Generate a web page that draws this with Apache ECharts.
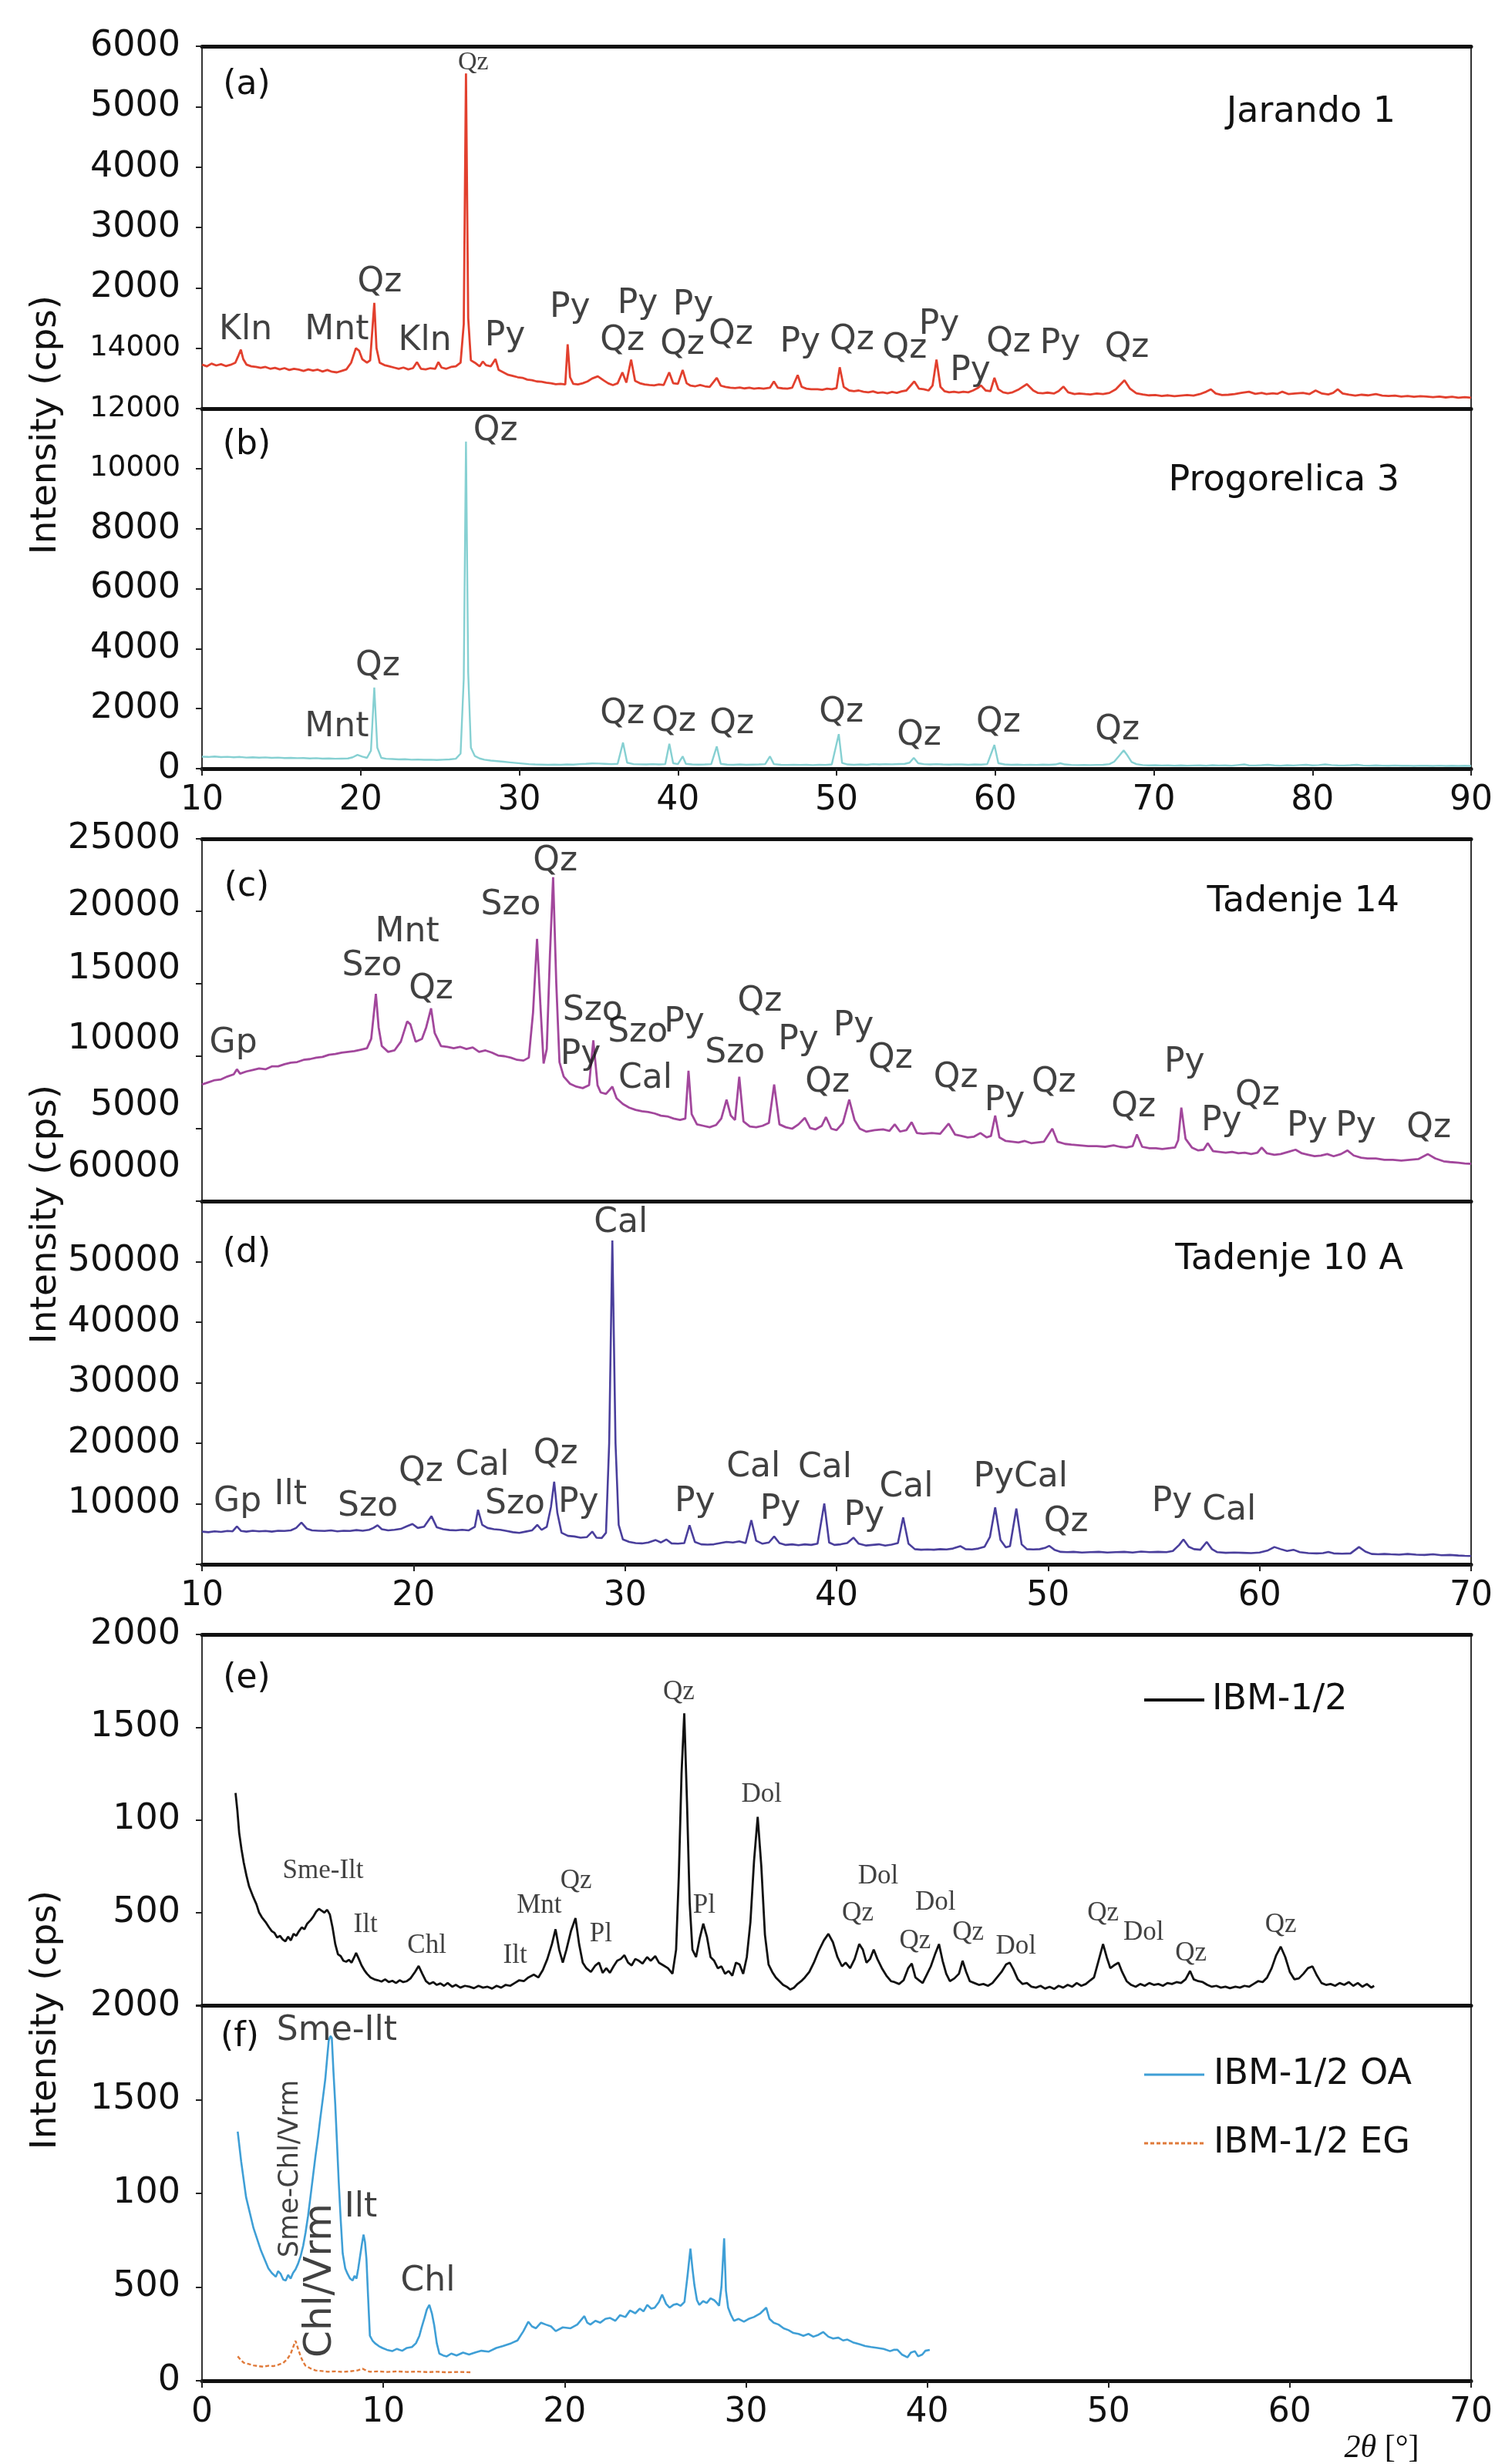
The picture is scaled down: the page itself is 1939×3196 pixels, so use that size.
<!DOCTYPE html>
<html><head><meta charset="utf-8">
<script src="https://cdn.jsdelivr.net/npm/echarts@6/dist/echarts.min.js"></script>
<style>html,body{margin:0;padding:0;background:#fff}#c{width:1939px;height:3196px}</style>
</head><body><div id="c"></div>
<script>
// ---------------- DATA (2θ [°], intensity [cps]) ----------------
const jarando1 = [[10.0,730],[10.3,700],[10.6,745],[10.9,715],[11.2,735],[11.5,705],[11.8,725],[12.1,760],[12.3,880],[12.45,975],[12.6,820],[12.8,730],[13.1,700],[13.4,690],[13.7,675],[14.0,690],[14.3,660],[14.6,675],[14.9,650],[15.2,670],[15.5,640],[15.8,660],[16.1,645],[16.4,625],[16.7,650],[17.0,630],[17.3,645],[17.6,615],[17.9,640],[18.2,610],[18.5,600],[18.8,625],[19.1,650],[19.4,760],[19.7,1000],[19.9,960],[20.1,820],[20.4,760],[20.6,800],[20.86,1750],[21.0,1000],[21.2,760],[21.5,720],[21.8,700],[22.1,680],[22.4,660],[22.7,680],[23.0,650],[23.3,670],[23.55,770],[23.8,660],[24.1,650],[24.4,670],[24.7,660],[24.9,770],[25.1,680],[25.4,660],[25.7,690],[26.0,700],[26.3,760],[26.5,1400],[26.64,5550],[26.78,1500],[26.95,800],[27.2,760],[27.5,700],[27.7,780],[27.9,720],[28.2,700],[28.5,820],[28.7,640],[29.0,600],[29.3,560],[29.6,540],[29.9,520],[30.2,510],[30.5,480],[30.8,470],[31.1,450],[31.4,445],[31.7,430],[32.0,420],[32.3,405],[32.6,410],[32.9,400],[33.05,1065],[33.2,520],[33.4,410],[33.7,400],[34.0,420],[34.3,450],[34.6,500],[34.95,535],[35.3,470],[35.6,420],[35.9,390],[36.2,420],[36.5,600],[36.75,430],[37.05,810],[37.3,460],[37.6,420],[37.9,400],[38.2,390],[38.5,385],[38.8,400],[39.1,390],[39.45,600],[39.7,420],[40.0,410],[40.3,640],[40.55,420],[40.8,380],[41.1,370],[41.4,390],[41.7,370],[42.0,360],[42.45,510],[42.7,380],[43.0,360],[43.3,345],[43.6,340],[43.9,350],[44.2,335],[44.5,345],[44.8,330],[45.1,340],[45.4,330],[45.8,345],[46.05,450],[46.3,345],[46.6,335],[46.9,330],[47.2,345],[47.55,555],[47.8,360],[48.1,330],[48.4,320],[48.8,320],[49.1,310],[49.4,330],[49.7,320],[50.0,340],[50.2,685],[50.45,360],[50.8,300],[51.1,290],[51.4,300],[51.7,280],[52.0,270],[52.3,285],[52.6,260],[52.9,270],[53.2,255],[53.5,275],[53.8,260],[54.1,285],[54.4,300],[54.9,450],[55.2,330],[55.5,320],[55.8,300],[56.05,380],[56.3,810],[56.55,360],[56.8,290],[57.1,270],[57.4,280],[57.7,265],[58.0,280],[58.3,270],[58.6,300],[58.9,340],[59.1,385],[59.4,300],[59.7,290],[59.95,510],[60.2,320],[60.5,270],[60.8,255],[61.1,270],[61.5,320],[62.0,405],[62.4,300],[62.7,260],[63.0,255],[63.3,265],[63.7,250],[64.0,290],[64.3,365],[64.6,270],[65.0,240],[65.3,250],[65.7,240],[66.0,235],[66.4,250],[66.8,240],[67.2,260],[67.6,320],[68.15,470],[68.5,330],[68.9,255],[69.3,235],[69.7,220],[70.1,225],[70.5,210],[70.9,220],[71.3,205],[71.7,215],[72.1,225],[72.5,215],[72.9,240],[73.3,280],[73.6,320],[73.9,250],[74.3,225],[74.7,230],[75.1,240],[75.5,260],[76.0,280],[76.4,245],[76.8,260],[77.1,240],[77.5,255],[77.8,245],[78.1,280],[78.5,240],[78.9,250],[79.4,260],[79.8,240],[80.2,300],[80.6,250],[81.0,235],[81.3,260],[81.6,320],[81.9,250],[82.3,230],[82.7,215],[83.1,230],[83.5,220],[84.0,240],[84.4,215],[84.8,210],[85.2,215],[85.6,200],[86.0,210],[86.4,195],[86.8,205],[87.2,200],[87.6,190],[88.0,200],[88.4,185],[88.8,195],[89.2,180],[89.6,190],[90.0,180]];

const progorelica3 = [[10.0,400],[10.4,390],[10.8,405],[11.2,385],[11.6,395],[12.0,380],[12.4,390],[12.8,370],[13.2,380],[13.6,365],[14.0,375],[14.4,360],[14.8,370],[15.2,355],[15.6,360],[16.0,350],[16.4,355],[16.8,340],[17.2,350],[17.6,335],[18.0,340],[18.4,330],[18.8,335],[19.2,340],[19.5,380],[19.8,460],[20.1,400],[20.4,360],[20.65,600],[20.86,2700],[21.05,700],[21.3,360],[21.6,330],[22.0,320],[22.4,310],[22.8,315],[23.2,300],[23.6,305],[24.0,295],[24.4,300],[24.8,290],[25.2,300],[25.6,310],[26.0,330],[26.3,500],[26.5,3000],[26.64,10900],[26.78,3200],[26.95,700],[27.2,420],[27.5,340],[27.8,300],[28.2,270],[28.6,250],[29.0,230],[29.4,210],[29.8,190],[30.2,170],[30.6,150],[31.0,140],[31.4,135],[31.8,130],[32.2,135],[32.6,130],[33.0,140],[33.4,135],[33.8,150],[34.2,160],[34.6,175],[35.0,170],[35.4,160],[35.8,150],[36.2,160],[36.54,870],[36.8,200],[37.2,150],[37.6,145],[38.0,140],[38.4,150],[38.8,140],[39.2,150],[39.46,830],[39.7,180],[40.0,150],[40.3,410],[40.5,160],[40.9,140],[41.3,135],[41.7,140],[42.1,150],[42.45,740],[42.7,160],[43.1,135],[43.5,130],[43.9,140],[44.3,130],[44.7,135],[45.1,140],[45.5,150],[45.8,410],[46.05,150],[46.5,130],[46.9,125],[47.3,130],[47.7,125],[48.1,130],[48.5,120],[48.9,130],[49.3,125],[49.7,140],[50.14,1150],[50.35,190],[50.7,140],[51.1,130],[51.5,140],[51.9,130],[52.3,150],[52.7,140],[53.1,150],[53.5,145],[53.9,155],[54.3,160],[54.6,200],[54.87,360],[55.15,180],[55.5,150],[55.9,140],[56.3,150],[56.7,140],[57.1,135],[57.5,145],[57.9,140],[58.3,130],[58.7,140],[59.1,135],[59.5,150],[59.95,790],[60.2,180],[60.6,140],[61.0,130],[61.4,135],[61.8,125],[62.2,130],[62.6,125],[63.0,135],[63.4,130],[63.8,140],[64.1,180],[64.4,140],[64.8,125],[65.2,120],[65.6,125],[66.0,120],[66.4,125],[66.8,130],[67.2,150],[67.5,230],[67.8,420],[68.1,610],[68.35,430],[68.6,220],[68.9,150],[69.3,120],[69.7,110],[70.1,115],[70.5,105],[70.9,110],[71.3,100],[71.7,110],[72.1,100],[72.5,105],[72.9,110],[73.3,100],[73.7,115],[74.1,105],[74.5,110],[74.9,100],[75.3,120],[75.7,140],[76.0,110],[76.4,105],[76.8,115],[77.2,130],[77.6,110],[78.0,100],[78.4,115],[78.8,105],[79.2,120],[79.6,130],[80.0,110],[80.4,120],[80.8,140],[81.2,120],[81.6,110],[82.0,105],[82.4,115],[82.8,130],[83.2,105],[83.6,100],[84.0,110],[84.4,100],[84.8,95],[85.2,105],[85.6,95],[86.0,100],[86.4,90],[86.8,100],[87.2,95],[87.6,90],[88.0,100],[88.4,90],[88.8,95],[89.2,90],[89.6,95],[90.0,90]];

const tadenje14 = [[10.0,8050],[10.3,8200],[10.6,8350],[10.9,8400],[11.2,8600],[11.5,8750],[11.65,9100],[11.8,8800],[12.1,8950],[12.4,9050],[12.7,9150],[13.0,9100],[13.3,9300],[13.6,9300],[13.9,9450],[14.2,9550],[14.5,9600],[14.8,9750],[15.1,9800],[15.4,9900],[15.7,9950],[16.0,10100],[16.3,10150],[16.6,10250],[16.9,10300],[17.2,10350],[17.5,10450],[17.8,10550],[18.0,11200],[18.1,12600],[18.22,14300],[18.35,12000],[18.5,10700],[18.8,10300],[19.1,10400],[19.4,11000],[19.7,12400],[19.85,12200],[20.1,11000],[20.4,11200],[20.6,12000],[20.83,13300],[21.0,11600],[21.3,10700],[21.6,10650],[21.9,10550],[22.2,10650],[22.5,10500],[22.8,10600],[23.1,10300],[23.4,10400],[23.7,10250],[24.0,10050],[24.3,10000],[24.6,9900],[24.9,9750],[25.2,9700],[25.45,9900],[25.65,13000],[25.84,18100],[26.0,13500],[26.15,9500],[26.3,10500],[26.45,17000],[26.6,22350],[26.75,15000],[26.9,9600],[27.1,8600],[27.4,8100],[27.7,7900],[28.0,7800],[28.3,8000],[28.5,11100],[28.7,8000],[28.85,7500],[29.1,7400],[29.4,7900],[29.6,7100],[29.9,6700],[30.2,6450],[30.5,6300],[30.8,6200],[31.1,6150],[31.4,6050],[31.7,5900],[32.0,5850],[32.3,5700],[32.6,5600],[32.85,5700],[33.0,9000],[33.15,6000],[33.4,5300],[33.7,5200],[34.0,5100],[34.3,5250],[34.55,5700],[34.8,7000],[35.0,5900],[35.2,5600],[35.4,8580],[35.6,5500],[35.9,5150],[36.2,5100],[36.5,5200],[36.8,5400],[37.05,8050],[37.3,5300],[37.6,5100],[37.9,5000],[38.2,5300],[38.5,5750],[38.75,5050],[39.0,4950],[39.3,5200],[39.5,5800],[39.75,5000],[40.0,4900],[40.3,5400],[40.6,7000],[40.85,5600],[41.1,5000],[41.4,4800],[41.8,4900],[42.2,4950],[42.5,4850],[42.75,5300],[43.0,4800],[43.3,4900],[43.55,5450],[43.8,4700],[44.1,4650],[44.5,4700],[44.9,4650],[45.3,5350],[45.6,4600],[45.9,4500],[46.2,4400],[46.5,4450],[46.8,4700],[47.1,4400],[47.3,4500],[47.5,5900],[47.7,4400],[48.0,4150],[48.3,4100],[48.6,4050],[48.9,4150],[49.2,4000],[49.5,4050],[49.8,4100],[50.2,5000],[50.45,4100],[50.8,3950],[51.1,3900],[51.5,3850],[51.9,3800],[52.3,3800],[52.7,3750],[53.1,3850],[53.4,3750],[53.7,3700],[54.0,3800],[54.2,4600],[54.45,3750],[54.8,3650],[55.1,3650],[55.4,3600],[55.7,3650],[56.0,3700],[56.15,4200],[56.3,6450],[56.5,4300],[56.8,3700],[57.1,3500],[57.35,3550],[57.55,4000],[57.8,3450],[58.1,3400],[58.4,3350],[58.7,3400],[59.0,3300],[59.3,3350],[59.6,3250],[59.9,3350],[60.1,3700],[60.35,3300],[60.7,3200],[61.0,3250],[61.35,3400],[61.7,3550],[62.0,3300],[62.3,3200],[62.6,3100],[62.9,3150],[63.2,3250],[63.5,3100],[63.85,3250],[64.15,3500],[64.45,3150],[64.8,3000],[65.1,2950],[65.5,2950],[65.9,2850],[66.3,2850],[66.7,2800],[67.1,2850],[67.5,2900],[67.95,3250],[68.3,2950],[68.7,2750],[69.0,2700],[69.4,2650],[69.7,2600],[70.0,2580]];

const tadenje10A = [[10.0,5400],[10.3,5300],[10.6,5450],[10.9,5350],[11.2,5500],[11.45,5450],[11.65,6250],[11.85,5500],[12.1,5400],[12.4,5550],[12.7,5450],[13.0,5500],[13.3,5400],[13.6,5550],[13.9,5500],[14.2,5600],[14.45,6000],[14.7,6900],[14.95,5900],[15.2,5600],[15.5,5550],[15.8,5500],[16.1,5600],[16.4,5450],[16.7,5550],[17.0,5500],[17.3,5650],[17.6,5550],[17.9,5700],[18.1,6000],[18.3,6450],[18.5,5800],[18.8,5600],[19.1,5700],[19.4,5850],[19.7,6300],[19.95,6650],[20.2,6000],[20.5,6200],[20.85,7950],[21.1,6100],[21.4,5800],[21.7,5650],[22.0,5600],[22.3,5700],[22.6,5600],[22.9,6200],[23.05,9000],[23.25,6500],[23.5,6000],[23.8,5800],[24.1,5700],[24.4,5500],[24.7,5300],[25.0,5200],[25.3,5400],[25.6,5600],[25.85,6500],[26.05,5700],[26.3,6200],[26.5,9500],[26.65,13650],[26.8,8500],[27.0,5200],[27.3,4700],[27.6,4600],[27.9,4400],[28.2,4500],[28.45,5400],[28.65,4400],[28.9,4350],[29.1,5200],[29.25,20000],[29.4,53500],[29.55,20000],[29.7,6500],[29.9,4100],[30.2,3700],[30.5,3500],[30.8,3450],[31.1,3600],[31.45,4000],[31.7,3600],[31.95,4100],[32.2,3450],[32.5,3400],[32.8,3500],[33.05,6450],[33.3,3700],[33.6,3300],[33.9,3250],[34.2,3300],[34.5,3500],[34.8,3700],[35.1,3600],[35.4,3800],[35.7,3500],[35.97,7300],[36.2,3900],[36.5,3400],[36.8,3600],[37.05,4600],[37.3,3500],[37.6,3200],[37.9,3300],[38.2,3150],[38.5,3300],[38.8,3200],[39.1,3400],[39.42,10050],[39.65,3600],[39.9,3200],[40.2,3300],[40.5,3500],[40.8,4400],[41.05,3400],[41.4,3100],[41.7,3200],[42.0,3300],[42.3,3100],[42.6,3250],[42.9,3500],[43.15,7750],[43.4,3400],[43.7,2500],[44.0,2400],[44.3,2450],[44.6,2400],[44.9,2500],[45.2,2450],[45.5,2600],[45.85,3000],[46.1,2500],[46.4,2450],[46.7,2600],[47.0,2900],[47.25,4500],[47.5,9400],[47.75,4000],[48.0,2800],[48.2,3000],[48.5,9200],[48.75,3300],[49.0,2500],[49.3,2450],[49.6,2500],[49.85,2700],[50.05,3050],[50.3,2400],[50.6,2050],[50.9,2000],[51.2,2050],[51.6,1950],[52.0,2000],[52.4,2050],[52.8,1950],[53.2,2000],[53.6,2050],[54.0,1950],[54.4,2100],[54.8,2000],[55.2,2050],[55.6,2000],[55.9,2200],[56.2,3200],[56.4,4100],[56.65,2900],[56.9,2500],[57.2,2400],[57.5,3700],[57.75,2500],[58.0,2000],[58.4,1900],[58.8,1950],[59.2,1900],[59.6,1850],[60.0,1950],[60.4,2300],[60.7,2850],[61.0,2500],[61.3,2200],[61.6,2400],[61.9,2000],[62.3,1850],[62.7,1800],[63.0,1850],[63.25,2050],[63.5,1800],[63.9,1750],[64.3,1800],[64.7,2850],[65.0,2100],[65.3,1700],[65.6,1650],[65.9,1700],[66.2,1650],[66.6,1600],[67.0,1700],[67.4,1600],[67.8,1550],[68.2,1650],[68.6,1500],[69.0,1550],[69.4,1450],[69.7,1400],[70.0,1360]];

const ibm12 = [[1.85,1145],[1.95,1050],[2.05,930],[2.18,840],[2.3,770],[2.45,700],[2.6,640],[2.8,590],[3.0,545],[3.15,500],[3.3,475],[3.5,450],[3.7,420],[3.85,400],[4.0,390],[4.15,365],[4.3,375],[4.45,355],[4.6,345],[4.75,370],[4.9,350],[5.05,385],[5.2,375],[5.35,400],[5.5,420],[5.65,410],[5.8,440],[6.0,460],[6.15,480],[6.3,505],[6.45,520],[6.6,510],[6.75,500],[6.9,515],[7.05,490],[7.2,420],[7.35,330],[7.5,275],[7.65,265],[7.8,240],[7.95,235],[8.1,245],[8.25,230],[8.4,260],[8.5,282],[8.65,250],[8.8,215],[8.95,190],[9.1,170],[9.3,150],[9.5,140],[9.7,135],[9.9,128],[10.1,140],[10.3,125],[10.5,132],[10.7,120],[10.9,135],[11.1,125],[11.3,130],[11.5,145],[11.75,180],[11.95,212],[12.15,170],[12.35,130],[12.55,115],[12.75,125],[12.95,110],[13.15,118],[13.35,105],[13.55,120],[13.8,100],[14.0,110],[14.25,95],[14.5,105],[14.75,100],[15.0,92],[15.25,105],[15.5,95],[15.75,100],[16.0,90],[16.25,105],[16.5,95],[16.75,110],[17.0,105],[17.25,120],[17.5,135],[17.75,130],[18.0,150],[18.3,165],[18.55,150],[18.8,190],[19.05,250],[19.3,330],[19.5,410],[19.7,300],[19.9,230],[20.1,300],[20.35,400],[20.6,470],[20.8,330],[21.0,230],[21.2,200],[21.45,180],[21.7,215],[21.9,230],[22.1,175],[22.3,200],[22.5,175],[22.7,210],[22.9,240],[23.1,250],[23.3,270],[23.5,230],[23.7,215],[23.9,250],[24.1,240],[24.3,225],[24.55,260],[24.75,240],[25.0,265],[25.2,230],[25.45,215],[25.7,200],[25.95,170],[26.15,300],[26.3,700],[26.45,1250],[26.6,1575],[26.75,1100],[26.9,550],[27.05,300],[27.25,260],[27.45,360],[27.65,440],[27.85,370],[28.05,260],[28.25,240],[28.45,200],[28.65,210],[28.85,170],[29.05,185],[29.25,160],[29.45,230],[29.65,220],[29.85,170],[30.05,260],[30.25,450],[30.45,780],[30.65,1016],[30.85,750],[31.05,380],[31.25,220],[31.45,180],[31.65,150],[31.85,130],[32.05,110],[32.25,100],[32.45,85],[32.65,95],[32.85,115],[33.05,130],[33.25,150],[33.5,180],[33.75,230],[34.0,290],[34.3,350],[34.55,385],[34.8,340],[35.05,260],[35.3,210],[35.5,230],[35.75,200],[36.0,250],[36.25,330],[36.45,300],[36.65,230],[36.85,250],[37.05,300],[37.25,250],[37.5,200],[37.75,160],[38.0,130],[38.2,125],[38.45,115],[38.7,135],[38.95,200],[39.15,225],[39.35,150],[39.55,135],[39.75,120],[39.95,160],[40.2,210],[40.45,280],[40.65,330],[40.85,240],[41.05,170],[41.25,130],[41.5,145],[41.75,170],[41.95,240],[42.15,180],[42.35,130],[42.6,120],[42.85,110],[43.1,115],[43.35,105],[43.6,120],[43.85,150],[44.1,180],[44.35,220],[44.55,230],[44.75,195],[45.0,140],[45.25,115],[45.5,120],[45.75,100],[46.0,95],[46.25,105],[46.5,90],[46.75,100],[47.0,88],[47.25,105],[47.5,95],[47.75,110],[48.0,100],[48.25,120],[48.5,105],[48.75,115],[49.0,135],[49.2,150],[49.45,240],[49.7,330],[49.9,260],[50.1,200],[50.3,215],[50.55,230],[50.75,180],[51.0,130],[51.25,110],[51.5,100],[51.75,115],[52.0,105],[52.25,120],[52.5,110],[52.75,115],[53.0,105],[53.25,120],[53.5,115],[53.75,125],[54.0,120],[54.25,140],[54.5,185],[54.7,140],[54.95,130],[55.2,125],[55.45,110],[55.7,100],[55.95,105],[56.2,95],[56.45,100],[56.7,92],[57.0,100],[57.25,95],[57.5,105],[57.75,100],[58.0,115],[58.25,130],[58.5,125],[58.75,150],[59.0,200],[59.25,270],[59.5,316],[59.75,260],[60.0,180],[60.25,140],[60.5,145],[60.75,170],[61.0,200],[61.25,210],[61.5,160],[61.75,120],[62.0,110],[62.25,115],[62.5,105],[62.75,120],[63.0,110],[63.25,125],[63.5,105],[63.75,120],[64.0,100],[64.25,115],[64.5,95],[64.65,105]];

const ibm12OA = [[1.97,1330],[2.16,1170],[2.43,980],[2.84,815],[3.25,695],[3.66,600],[3.85,575],[4.07,555],[4.2,585],[4.34,570],[4.48,540],[4.62,535],[4.75,565],[4.89,545],[5.02,575],[5.16,595],[5.3,625],[5.44,665],[5.58,720],[5.71,790],[5.85,880],[5.98,980],[6.12,1090],[6.26,1200],[6.4,1300],[6.53,1405],[6.67,1510],[6.8,1610],[6.9,1720],[6.99,1815],[7.08,1840],[7.16,1830],[7.25,1650],[7.35,1475],[7.45,1260],[7.54,1065],[7.65,860],[7.76,680],[7.9,600],[8.03,570],[8.17,545],[8.31,535],[8.41,560],[8.52,545],[8.62,600],[8.72,665],[8.82,730],[8.91,780],[8.99,740],[9.07,650],[9.16,450],[9.26,240],[9.4,215],[9.54,200],[9.75,185],[9.95,175],[10.2,165],[10.49,158],[10.75,170],[11.04,160],[11.3,175],[11.58,180],[11.8,200],[11.99,240],[12.13,290],[12.27,335],[12.4,380],[12.54,405],[12.68,360],[12.81,295],[12.95,200],[13.09,145],[13.3,135],[13.5,130],[13.75,145],[14.04,135],[14.4,150],[14.73,140],[15.05,150],[15.41,160],[15.8,155],[16.23,175],[16.6,185],[17.05,200],[17.4,215],[17.73,265],[18.0,315],[18.2,290],[18.42,280],[18.7,310],[18.96,300],[19.25,290],[19.51,265],[19.9,285],[20.33,280],[20.7,300],[21.09,345],[21.25,310],[21.42,300],[21.7,320],[21.97,310],[22.25,330],[22.51,335],[22.8,320],[23.06,350],[23.35,340],[23.61,375],[23.9,360],[24.15,385],[24.35,370],[24.56,405],[24.78,385],[24.97,390],[25.2,420],[25.38,460],[25.6,410],[25.79,390],[26.0,405],[26.2,410],[26.4,400],[26.61,420],[26.78,560],[26.94,705],[27.05,600],[27.16,510],[27.3,430],[27.43,405],[27.64,425],[27.84,415],[28.05,440],[28.25,430],[28.4,415],[28.52,400],[28.65,500],[28.8,760],[28.9,480],[29.02,390],[29.18,350],[29.34,320],[29.6,330],[29.89,315],[30.15,330],[30.44,340],[30.8,360],[31.12,390],[31.3,330],[31.53,310],[31.8,300],[32.08,280],[32.35,270],[32.62,255],[32.9,250],[33.17,240],[33.45,250],[33.72,235],[34.0,245],[34.26,260],[34.55,235],[34.81,225],[35.1,230],[35.36,215],[35.6,220],[35.9,205],[36.25,195],[36.58,185],[36.9,180],[37.27,175],[37.6,170],[37.95,158],[38.15,165],[38.36,165],[38.6,140],[38.91,125],[39.1,150],[39.32,158],[39.5,130],[39.73,140],[39.9,160],[40.14,165]];

const ibm12EG = [[1.97,130],[2.15,110],[2.3,96],[2.55,90],[2.84,82],[3.1,78],[3.39,75],[3.65,80],[3.93,78],[4.2,85],[4.48,95],[4.7,115],[4.89,144],[5.05,185],[5.16,213],[5.3,170],[5.44,130],[5.58,100],[5.71,80],[6.0,65],[6.26,55],[6.6,52],[6.94,48],[7.35,50],[7.76,47],[8.15,50],[8.58,55],[8.85,64],[9.05,55],[9.26,48],[9.7,50],[10.22,47],[10.75,50],[11.31,47],[11.85,49],[12.4,46],[12.95,48],[13.5,45],[14.2,47],[14.86,45]];

// ---------------- peak annotations [2θ, intensity, text] ----------------
const peaksA = [[12.75,1298,'Kln'],[18.5,1298,'Mnt'],[21.2,2085,'Qz'],[24.05,1110,'Kln'],[29.1,1191,'Py'],[33.2,1660,'Py'],[37.46,1723,'Py'],[40.96,1702,'Py'],[36.5,1110,'Qz'],[40.28,1047,'Qz'],[43.34,1213,'Qz'],[47.7,1085,'Py'],[50.97,1127,'Qz'],[54.3,983,'Qz'],[56.46,1383,'Py'],[58.43,617,'Py'],[60.84,1085,'Qz'],[64.1,1064,'Py'],[68.3,1000,'Qz']];
const peaksATop = [[27.1,5732,'Qz']];
const peaksB = [[28.5,11229,'Qz'],[21.08,3392,'Qz'],[18.5,1380,'Mnt'],[36.5,1806,'Qz'],[39.75,1550,'Qz'],[43.4,1465,'Qz'],[50.3,1850,'Qz'],[55.2,1079,'Qz'],[60.2,1516,'Qz'],[67.7,1259,'Qz']];
const peaksC = [[11.48,10888,'Gp'],[18.04,16207,'Szo'],[19.7,18511,'Mnt'],[20.83,14612,'Qz'],[24.6,20372,'Szo'],[26.7,23404,'Qz'],[28.47,13102,'Szo'],[27.9,10090,'Py'],[30.6,11596,'Szo'],[30.96,8405,'Cal'],[32.8,12303,'Py'],[35.2,10177,'Szo'],[36.37,13724,'Qz'],[38.2,11064,'Py'],[40.8,12040,'Py'],[39.57,8139,'Qz'],[42.55,9824,'Qz'],[45.64,8494,'Qz'],[47.95,6899,'Py'],[50.27,8139,'Qz'],[54.04,6452,'Qz'],[56.45,9558,'Py'],[58.2,5479,'Py'],[59.9,7250,'Qz'],[62.25,5124,'Py'],[64.55,5124,'Py'],[68.0,5036,'Qz']];
const peaksD = [[11.68,10276,'Gp'],[14.18,11333,'Ilt'],[17.84,9422,'Szo'],[20.35,15155,'Qz'],[23.25,16215,'Cal'],[26.72,18124,'Qz'],[24.8,9846,'Szo'],[27.8,10060,'Py'],[29.8,56305,'Cal'],[33.3,10276,'Py'],[36.07,16003,'Cal'],[37.34,8998,'Py'],[39.45,15791,'Cal'],[41.3,7938,'Py'],[43.3,12607,'Cal'],[48.7,14305,'PyCal'],[50.85,6874,'Qz'],[55.86,10276,'Py'],[58.56,8786,'Cal']];
const peaksE = [[6.68,725,'Sme-Ilt'],[9.02,434,'Ilt'],[12.4,323,'Chl'],[17.27,267,'Ilt'],[18.6,538,'Mnt'],[20.63,669,'Qz'],[22.0,385,'Pl'],[26.3,1688,'Qz'],[27.7,538,'Pl'],[30.86,1134,'Dol'],[37.3,697,'Dol'],[36.17,496,'Qz'],[40.45,552,'Dol'],[39.33,344,'Qz'],[42.26,392,'Qz'],[44.9,316,'Dol'],[49.7,496,'Qz'],[51.94,392,'Dol'],[54.55,281,'Qz'],[59.5,434,'Qz']];
const peaksF = [[7.44,1868,'Sme-Ilt'],[8.76,922,'Ilt'],[12.46,527,'Chl']];
const peaksFVertSmall = [[4.89,1132,'Sme-Chl/Vrm']];
const peaksFVertLarge = [[6.55,535,'Chl/Vrm']];

// ---------------- tick labels (as printed in the figure) ----------------
const yTicksA = ['', '14000', '2000', '3000', '4000', '5000', '6000'];
const yTicksB = ['0', '2000', '4000', '6000', '8000', '10000', '12000'];
const yTicksC = ['', '5000', '10000', '15000', '20000', '25000'];
const yTicksD = ['', '10000', '20000', '30000', '40000', '50000', '60000'];
const yTicksE = ['', '500', '100', '1500', '2000'];
const yTicksF = ['0', '500', '100', '1500', '2000'];
const xTicks10to90 = ['10','20','30','40','50','60','70','80','90'];
const xTicks10to70 = ['10','20','30','40','50','60','70'];
const xTicks0to70 = ['0','10','20','30','40','50','60','70'];

// ---------------- chart ----------------
const SANS = 'DejaVu Sans', SERIF = 'Liberation Serif';
const GL = 262, GW = 1646;
// label layout: small = squeezed 5-digit labels, lift = upward pixel offsets of printed labels
const panels = [
  {top:60,   h:470, xmin:10, xmax:90, ymax:6000,  yint:1000, yt:yTicksA, xt:null,         topLine:true,  data:jarando1,     color:'#e2402e', w:2.8, small:true,  lift:[0,0,0,0,0,0,0]},
  {top:530,  h:467, xmin:10, xmax:90, ymax:12000, yint:2000, yt:yTicksB, xt:xTicks10to90, topLine:false, data:progorelica3, color:'#86d0d2', w:2.4, small:true,  lift:[0,0,0,0,0,0,0]},
  {top:1088, h:470, xmin:10, xmax:70, ymax:25000, yint:5000, yt:yTicksC, xt:null,         topLine:true,  data:tadenje14,    color:'#a2479c', w:2.8, small:false, lift:[0,30,22,19,7,0]},
  {top:1558, h:471, xmin:10, xmax:70, ymax:60000, yint:10000,yt:yTicksD, xt:xTicks10to70, topLine:false, data:tadenje10A,   color:'#4a3f9c', w:2.6, small:false, lift:[0,0,0,0,0,0,44]},
  {top:2120, h:481, xmin:0,  xmax:70, ymax:2000,  yint:500,  yt:yTicksE, xt:null,         topLine:true,  data:ibm12,        color:'#111111', w:2.8, small:false, lift:[0,0,0,0,0]},
  {top:2602, h:486, xmin:0,  xmax:70, ymax:2000,  yint:500,  yt:yTicksF, xt:xTicks0to70,  topLine:false, data:ibm12OA,      color:'#3f9fd6', w:2.6, small:false, lift:[0,0,0,0,0]}
];

const grid = [], xAxis = [], yAxis = [], series = [];
panels.forEach((p, i) => {
  grid.push({left:GL, width:GW, top:p.top, height:p.h, show:true, borderColor:'#333', borderWidth:2, backgroundColor:'transparent', containLabel:false, outerBoundsMode:'none'});
  xAxis.push({
    type:'value', gridIndex:i, min:p.xmin, max:p.xmax, interval:10,
    axisLine:{show:true, onZero:false, lineStyle:{color:'#111', width:5}},
    axisTick:{show:!!p.xt, length:9, lineStyle:{color:'#222', width:2}},
    axisLabel:{show:!!p.xt, margin:20, fontFamily:SANS, fontSize:44, color:'#111',
      formatter:(v)=> p.xt ? (p.xt[Math.round((v - p.xmin)/10)] ?? '') : ''},
    splitLine:{show:false}
  });
  const rich = {};
  p.lift.forEach(l => {
    rich['n' + l] = {fontFamily:SANS, fontSize:46, color:'#111', padding:[0,0,2*l,0]};
    rich['s' + l] = {fontFamily:SANS, fontSize:37, color:'#111', padding:[0,0,2*l,0]};
  });
  yAxis.push({
    type:'value', gridIndex:i, min:0, max:p.ymax, interval:p.yint,
    axisLine:{show:false},
    axisTick:{show:true, length:8, lineStyle:{color:'#222', width:2}},
    axisLabel:{show:true, margin:28, fontFamily:SANS, fontSize:46, color:'#111',
      formatter:(v)=> {
        const k = Math.round(v/p.yint), s = p.yt[k];
        if (!s) return '';
        const st = (p.small && s.length >= 5) ? 's' : 'n';
        return '{' + st + (p.lift[k] || 0) + '|' + s + '}';
      },
      rich:rich},
    splitLine:{show:false}
  });
  series.push({type:'line', xAxisIndex:i, yAxisIndex:i, data:p.data, symbol:'none', showSymbol:false,
    lineStyle:{color:p.color, width:p.w}, animation:false, silent:true, z:3});
});
// top frame lines of panels a, c, e
panels.forEach((p, i) => {
  if (p.topLine) xAxis.push({type:'value', gridIndex:i, position:'top', min:p.xmin, max:p.xmax,
    axisLine:{show:true, onZero:false, lineStyle:{color:'#111', width:5}}, axisTick:{show:false}, axisLabel:{show:false}, splitLine:{show:false}});
});
// EG curve in panel f
series.push({type:'line', xAxisIndex:5, yAxisIndex:5, data:ibm12EG, symbol:'none', showSymbol:false,
  lineStyle:{color:'#e07a3a', width:2.4, type:[5,3]}, animation:false, silent:true, z:3});

function labelSeries(idx, data, font, size, rotate) {
  return {type:'scatter', xAxisIndex:idx, yAxisIndex:idx, data:data, symbolSize:1,
    itemStyle:{color:'rgba(0,0,0,0)'}, silent:true, animation:false, z:5, clip:false,
    label:{show:true, position:'inside', rotate:rotate||0, formatter:(q)=>q.data[2],
      fontFamily:font, fontSize:size, color:'#111'}};
}
series.push(labelSeries(0, peaksA, SANS, 44));
series.push(labelSeries(0, peaksATop, SERIF, 34));
series.push(labelSeries(1, peaksB, SANS, 44));
series.push(labelSeries(2, peaksC, SANS, 44));
series.push(labelSeries(3, peaksD, SANS, 44));
series.push(labelSeries(4, peaksE, SERIF, 35));
series.push(labelSeries(5, peaksF, SANS, 44));
series.push(labelSeries(5, peaksFVertSmall, SANS, 35, 90));
series.push(labelSeries(5, peaksFVertLarge, SANS, 50, 90));

function txt(x, y, text, size, align) {
  const a = align || 'center';
  return {type:'text', x:x, y:y, silent:true, z:10,
    style:{text:text, fontFamily:SANS, fontSize:size, fill:'#111', textAlign:a, textVerticalAlign:'middle', align:a, verticalAlign:'middle'}};
}
function vtxt(x, y, text, size) { const t = txt(x, y, text, size); t.rotation = Math.PI/2; return t; }
const graphic = [
  txt(320, 111, '(a)', 44), txt(320, 578, '(b)', 44), txt(320, 1151, '(c)', 44),
  txt(320, 1626, '(d)', 44), txt(320, 2178, '(e)', 44), txt(311, 2643, '(f)', 44),
  txt(1810, 146, 'Jarando 1', 46, 'right'), txt(1815, 624, 'Progorelica 3', 46, 'right'),
  txt(1815, 1170, 'Tadenje 14', 46, 'right'), txt(1820, 1634, 'Tadenje 10 A', 46, 'right'),
  vtxt(60, 551, 'Intensity (cps)', 47), vtxt(60, 1575, 'Intensity (cps)', 47), vtxt(60, 2620, 'Intensity (cps)', 47),
  // legends
  {type:'line', shape:{x1:1484, y1:2205, x2:1562, y2:2205}, style:{stroke:'#111', lineWidth:4}, silent:true},
  txt(1572, 2205, 'IBM-1/2', 46, 'left'),
  {type:'line', shape:{x1:1484, y1:2691, x2:1562, y2:2691}, style:{stroke:'#3f9fd6', lineWidth:3}, silent:true},
  txt(1574, 2691, 'IBM-1/2 OA', 46, 'left'),
  {type:'line', shape:{x1:1484, y1:2780, x2:1562, y2:2780}, style:{stroke:'#e07a3a', lineWidth:3, lineDash:[5,3]}, silent:true},
  txt(1574, 2780, 'IBM-1/2 EG', 46, 'left'),
  // x-axis title
  {type:'text', x:1792, y:3176, silent:true, z:10, style:{
    text:'{i|2θ}{n| [°]}', textAlign:'center', textVerticalAlign:'middle', align:'center', verticalAlign:'middle',
    rich:{i:{fontFamily:SERIF, fontStyle:'italic', fontSize:42, fill:'#111'}, n:{fontFamily:SERIF, fontSize:42, fill:'#111'}}}}
];

const chart = echarts.init(document.getElementById('c'), null, {renderer:'canvas', width:1939, height:3196});
chart.setOption({animation:false, backgroundColor:'#ffffff', grid, xAxis, yAxis, series, graphic});
</script>
</body></html>
